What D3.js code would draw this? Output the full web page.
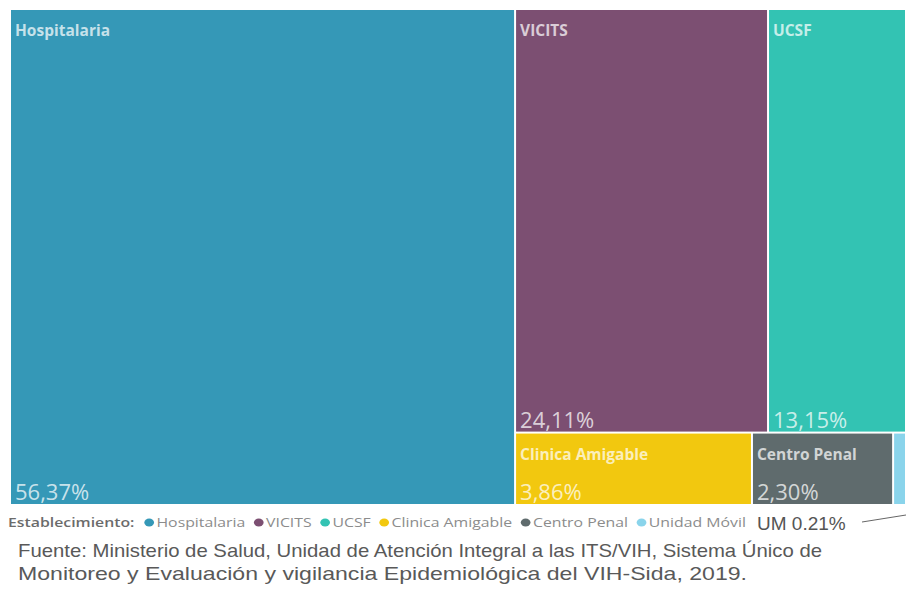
<!DOCTYPE html>
<html>
<head>
<meta charset="utf-8">
<script src="https://cdn.jsdelivr.net/npm/d3@7"></script>
<style>
  html, body { margin: 0; padding: 0; background: #ffffff; }
  svg { display: block; }
</style>
</head>
<body>
<svg id="chart" width="906" height="592"></svg>
<script>
// ---- data ----
const categories = ["Hospitalaria", "VICITS", "UCSF", "Clinica Amigable", "Centro Penal", "Unidad Móvil"];
const values = [56.37, 24.11, 13.15, 3.86, 2.30, 0.21];
const valueLabels = ["56,37%", "24,11%", "13,15%", "3,86%", "2,30%", ""];
const colors = ["#3598b7", "#7c4f72", "#33c3b3", "#f2c80f", "#5f6b6d", "#8ad4eb"];
const legendTitle = "Establecimiento:";
const annotation = "UM 0.21%";
const sourceLines = [
  "Fuente: Ministerio de Salud, Unidad de Atención Integral a las ITS/VIH, Sistema Único de",
  "Monitoreo y Evaluación y vigilancia Epidemiológica del VIH-Sida, 2019."
];

const svg = d3.select("#chart");

// hierarchy: main block | (top row / bottom row)
const leaf = i => ({ name: categories[i], value: values[i], idx: i });
const tree = {
  children: [
    leaf(0),
    { children: [
        { children: [leaf(1), leaf(2)] },
        { children: [leaf(3), leaf(4), leaf(5)] }
    ] }
  ]
};

const root = d3.hierarchy(tree).sum(d => d.children ? 0 : d.value);
d3.treemap()
  .tile(d3.treemapSliceDice)
  .size([894, 494])
  .paddingInner(2)
  .round(false)(root);

const leaves = root.leaves();
const cells = svg.append("g")
  .attr("transform", "translate(11,10)")
  .selectAll("g").data(leaves).join("g");

cells.append("rect")
  .attr("x", d => d.x0)
  .attr("y", d => d.y0)
  .attr("width", d => Math.max(0, d.x1 - d.x0))
  .attr("height", d => Math.max(0, d.y1 - d.y0))
  .attr("fill", d => colors[d.data.idx]);

const bigEnough = d => (d.x1 - d.x0) > 40;

cells.filter(bigEnough).append("text")
  .attr("x", d => d.x0 + 4)
  .attr("y", d => d.y0 + 26)
  .attr("font-family", "'Open Sans', sans-serif")
  .attr("font-weight", 700)
  .attr("font-size", 15.5)
  .attr("fill", "rgba(255,255,255,0.72)")
  .text(d => d.data.name);

cells.filter(bigEnough).append("text")
  .attr("x", d => d.x0 + 4)
  .attr("y", d => d.y1 - 4)
  .attr("font-family", "'Open Sans', sans-serif")
  .attr("font-weight", 400)
  .attr("font-size", 22)
  .attr("fill", "rgba(255,255,255,0.74)")
  .text(d => valueLabels[d.data.idx]);

// ---- legend ----
const legend = svg.append("g");
const legendY = 527;
const lfont = "'Open Sans', sans-serif";
const title = legend.append("text")
  .attr("x", 0).attr("y", legendY)
  .attr("font-family", lfont).attr("font-size", 13).attr("font-weight", 600)
  .attr("fill", "#6b6b6b")
  .text(legendTitle);
let cx = title.node().getComputedTextLength() + 8;
categories.forEach((c, i) => {
  legend.append("circle")
    .attr("cx", cx + 4).attr("cy", legendY - 4.5).attr("r", 4)
    .attr("fill", colors[i]);
  const t = legend.append("text")
    .attr("x", cx + 10).attr("y", legendY)
    .attr("font-family", lfont).attr("font-size", 13)
    .attr("fill", "#8c8c8c")
    .text(c);
  cx += 10 + t.node().getComputedTextLength() + 7;
});
const legendWidth = cx - 7;
const sx = (746 - 8) / legendWidth;
legend.attr("transform", `translate(8,0) scale(${sx},1)`);

// annotation
svg.append("text")
  .attr("x", 757).attr("y", 530)
  .attr("font-family", "'Liberation Sans', Arial, sans-serif")
  .attr("font-size", 19)
  .attr("fill", "#555555")
  .text(annotation);
svg.append("line")
  .attr("x1", 862).attr("y1", 522).attr("x2", 906).attr("y2", 515)
  .attr("stroke", "#666").attr("stroke-width", 1);

// source
const sourceWidths = [804, 729];
svg.append("g").selectAll("text").data(sourceLines).join("text")
  .attr("x", 18)
  .attr("y", (d, i) => 557 + i * 23)
  .attr("font-family", "'Liberation Sans', Arial, sans-serif")
  .attr("font-size", 19)
  .attr("fill", "#595959")
  .attr("textLength", (d, i) => sourceWidths[i])
  .attr("lengthAdjust", "spacingAndGlyphs")
  .text(d => d);
</script>
</body>
</html>
